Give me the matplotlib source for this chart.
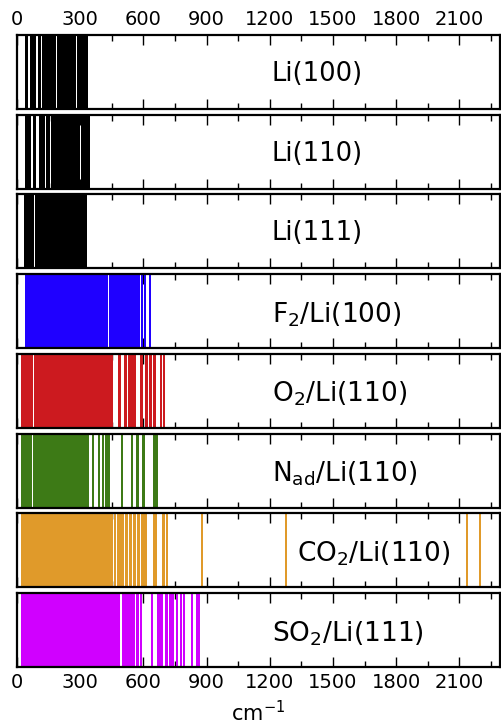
import matplotlib
matplotlib.use('Agg')
import matplotlib.pyplot as plt
from matplotlib.ticker import MultipleLocator

# vibrational frequencies (cm^-1) per system
li100 = [44, 48, 65, 70, 78, 86, 106, 111, 124, 130, 138, 145, 153, 160, 167,
         175, 181, 195, 201, 208, 216, 223, 231, 238, 246, 253, 260, 268, 275,
         289, 296, 304, 311, 318, 325, 330]
li110 = [41, 48, 55, 61, 79, 85, 109, 116, 123, 130, 144, 151, 166, 173, 181,
         188, 196, 203, 211, 218, 226, 233, 240, 248, 255, 263, 270, 278, 285,
         292, 296, 309, 316, 323, 331, 338, 341]
li111 = [36, 49, 55, 64, 71, 78, 88, 94, 103, 110, 118, 125, 134, 141, 149, 156,
         165, 172, 180, 188, 195, 204, 211, 219, 226, 235, 242, 250, 258, 266,
         273, 281, 290, 297, 305, 312, 320, 328]
f2_li100 = [44, 51, 59, 66, 73, 81, 88, 96, 103, 110, 118, 126, 133, 140, 148,
            155, 163, 170, 177, 185, 192, 200, 207, 215, 222, 229, 237, 244, 252,
            259, 266, 274, 281, 289, 296, 303, 311, 318, 326, 333, 340, 348, 355,
            360, 371, 379, 389, 396, 404, 411, 419, 424, 429, 443, 448, 456, 461,
            470, 477, 486, 491, 500, 506, 514, 520, 529, 534, 543, 548, 557, 562,
            571, 576, 581, 595, 609, 629]
o2_li110 = [23, 27, 40, 45, 51, 58, 66, 70, 84, 89, 96, 103, 110, 116, 123, 126,
            140, 146, 152, 160, 167, 173, 181, 188, 194, 202, 209, 215, 223, 230,
            236, 244, 251, 257, 265, 272, 278, 286, 293, 299, 307, 314, 320, 328,
            335, 341, 349, 356, 362, 370, 377, 383, 391, 398, 404, 412, 419, 425,
            433, 440, 446, 452, 485, 491, 512, 516, 533, 540, 551, 557, 562, 588,
            594, 612, 616, 630, 634, 651, 657, 682, 697]
nad_li110 = [23, 30, 37, 44, 51, 58, 62, 67, 81, 86, 93, 100, 107, 114, 121, 128,
             135, 142, 149, 156, 163, 170, 177, 184, 191, 198, 205, 212, 219, 226,
             233, 240, 247, 254, 261, 268, 275, 282, 289, 296, 303, 310, 317, 324,
             331, 338, 362, 388, 406, 422, 429, 435, 499, 544, 570, 576, 598, 605,
             651, 658, 665]
co2_li110 = [23, 30, 37, 45, 52, 58, 66, 73, 80, 87, 95, 101, 108, 116, 123, 130,
             137, 144, 152, 159, 166, 173, 180, 188, 195, 202, 209, 217, 224, 231,
             238, 245, 253, 260, 267, 274, 281, 289, 296, 303, 310, 318, 325, 332,
             339, 346, 354, 361, 368, 375, 382, 390, 397, 404, 411, 419, 426, 433,
             440, 447, 453, 467, 479, 486, 494, 503, 518, 523, 537, 541, 555, 559,
             572, 577, 591, 598, 605, 610, 648, 662, 692, 698, 712, 879, 1278,
             2134, 2197]
so2_li111 = [23, 31, 38, 45, 52, 60, 67, 74, 81, 88, 96, 103, 110, 117, 124, 132,
             139, 146, 153, 160, 168, 175, 182, 189, 196, 204, 211, 218, 225, 232,
             240, 247, 254, 261, 268, 276, 283, 290, 297, 304, 312, 319, 326, 333,
             340, 348, 355, 362, 369, 376, 384, 391, 398, 405, 412, 420, 427, 434,
             441, 448, 456, 463, 470, 477, 484, 503, 510, 517, 524, 531, 538, 545,
             554, 570, 576, 590, 642, 667, 674, 681, 688, 706, 713, 724, 731, 740,
             758, 776, 792, 829, 854, 862]

names = ['Li(100)', 'Li(110)', 'Li(111)', 'F$_2$/Li(100)', 'O$_2$/Li(110)',
         'N$_\\mathrm{ad}$/Li(110)', 'CO$_2$/Li(110)', 'SO$_2$/Li(111)']
spectra = [li100, li110, li111, f2_li100, o2_li110, nad_li110, co2_li110, so2_li111]
colors = ['black', 'black', 'black', '#1f00ff', '#cc1a1f', '#3d7a16', '#e09a2a', '#d000ff']

# label placement (x in cm^-1, y as axes fraction for the baseline)
label_x = [1208, 1208, 1208, 1208, 1208, 1208, 1330, 1208]
label_y = [0.38, 0.38, 0.38, 0.35, 0.35, 0.35, 0.35, 0.35]
label_size = [18.5, 18.5, 18.5, 19, 19, 19, 19, 19]

fig = plt.figure(figsize=(5.01, 7.24), dpi=100)
gs = fig.add_gridspec(8, 1, left=17 / 501, right=499.5 / 501,
                      top=1 - 35 / 724, bottom=1 - 667 / 724, hspace=0.08)

for i, (name, freqs, col) in enumerate(zip(names, spectra, colors)):
    ax = fig.add_subplot(gs[i])
    # exactly 2 px wide and snapped to the pixel grid -> dense modes merge
    ax.vlines(freqs, 0, 1, colors=col, linewidth=1.44, snap=True)
    ax.set_xlim(0, 2290)
    ax.set_ylim(0, 1)
    ax.set_yticks([])
    ax.xaxis.set_major_locator(MultipleLocator(300))
    ax.xaxis.set_minor_locator(MultipleLocator(150))
    ax.tick_params(axis='x', which='both', direction='in', top=True, bottom=True,
                   labelbottom=(i == 7), labeltop=(i == 0), labelsize=14,
                   width=1.0, pad=4)
    ax.tick_params(axis='x', which='major', length=7)
    ax.tick_params(axis='x', which='minor', length=4)
    for sp in ax.spines.values():
        sp.set_linewidth(1.6)
    ax.text(label_x[i], label_y[i], name, fontsize=label_size[i], va='baseline',
            ha='left', transform=ax.get_xaxis_transform())

fig.text((17 + 499.5) / 2 / 501, 3 / 724, 'cm$^{-1}$', fontsize=15,
         ha='center', va='baseline')

fig.savefig('out.png', dpi=100)
